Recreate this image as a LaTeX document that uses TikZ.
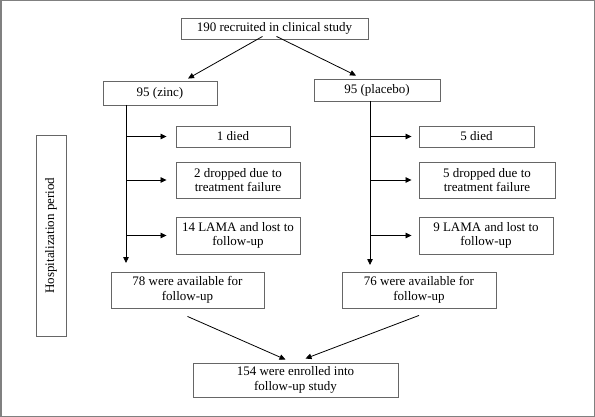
\documentclass[tikz,border=0pt]{standalone}
\usepackage{fontspec}
\setmainfont{Liberation Serif}
\usetikzlibrary{arrows.meta}

\tikzset{
    flowbox/.style={draw=black!60, line width=0.9pt, inner sep=0pt, align=center,
        font=\fontsize{13}{14.5}\selectfont},
    flowarrow/.style={-{Triangle[length=6pt,width=5.5pt]}, line width=0.8pt}
}

\begin{document}
\begin{tikzpicture}[x=1pt, y=-1pt]
    % Frame
    \draw[black!50, line width=1.5pt] (0.75,0.75) rectangle (594.25,416.25);

    % Top and the two arms
    \node[flowbox, minimum width=187pt, minimum height=21pt] (recruit) at (274.5,28.5) {190 recruited in clinical study};
    \node[flowbox, minimum width=114pt, minimum height=24pt] (zinc) at (160,93) {95 (zinc)};
    \node[flowbox, minimum width=126pt, minimum height=22pt] (placebo) at (377,90) {95 (placebo)};

    \draw[flowarrow] ([xshift=-12pt, yshift=3pt]recruit.south) -- ([xshift=28pt, yshift=2pt]zinc.north);
    \draw[flowarrow] ([xshift=2pt, yshift=3pt]recruit.south) -- ([xshift=-21pt, yshift=3pt]placebo.north);

    % Hospitalization period
    \node[flowbox, minimum width=30pt, minimum height=201pt] (hosp) at (51,235.5) {};
    \node[rotate=90, font=\fontsize{13}{14.5}\selectfont] (hosplabel) at (hosp.center) {Hospitalization period};

    % Zinc losses
    \node[flowbox, minimum width=114pt, minimum height=21pt] (zdied) at (233,136.5) {1 died};
    \node[flowbox, minimum width=124pt, minimum height=36pt] (zdrop) at (238,180) {2 dropped due to\\treatment failure};
    \node[flowbox, minimum width=124pt, minimum height=37pt] (zlama) at (238,235.5) {14 LAMA and lost to\\follow-up};
    \node[flowbox, minimum width=153pt, minimum height=36pt] (zavail) at (187.5,290) {78 were available for\\follow-up};

    \coordinate (ztrunk) at (126,105);
    \coordinate (zend) at (126,263);
    \draw[flowarrow] (ztrunk) -- (zend);
    \draw[flowarrow] (ztrunk |- zdied) -- ([xshift=-9pt]zdied.west);
    \draw[flowarrow] (ztrunk |- zdrop) -- ([xshift=-9pt]zdrop.west);
    \draw[flowarrow] (ztrunk |- zlama) -- ([xshift=-9pt]zlama.west);

    % Placebo losses
    \node[flowbox, minimum width=115pt, minimum height=21pt] (pdied) at (476.5,136.5) {5 died};
    \node[flowbox, minimum width=136pt, minimum height=36pt] (pdrop) at (487,180) {5 dropped due to\\treatment failure};
    \node[flowbox, minimum width=134pt, minimum height=37pt] (plama) at (486,235.5) {9 LAMA and lost to\\follow-up};
    \node[flowbox, minimum width=154pt, minimum height=36pt] (pavail) at (419,290) {76 were available for\\follow-up};

    \coordinate (ptrunk) at (370,101);
    \coordinate (pend) at (370,265);
    \draw[flowarrow] (ptrunk) -- (pend);
    \draw[flowarrow] (ptrunk |- pdied) -- ([xshift=-7pt]pdied.west);
    \draw[flowarrow] (ptrunk |- pdrop) -- ([xshift=-7pt]pdrop.west);
    \draw[flowarrow] (ptrunk |- plama) -- ([xshift=-7pt]plama.west);

    % Follow-up study
    \node[flowbox, minimum width=205pt, minimum height=34pt] (enrol) at (295.5,380) {154 were enrolled into\\follow-up study};
    \draw[flowarrow] ([yshift=-8pt]zavail.south) -- ([xshift=-10pt, yshift=3pt]enrol.north);
    \draw[flowarrow] ([yshift=-7pt]pavail.south) -- ([xshift=10pt, yshift=4pt]enrol.north);
\end{tikzpicture}
\end{document}
